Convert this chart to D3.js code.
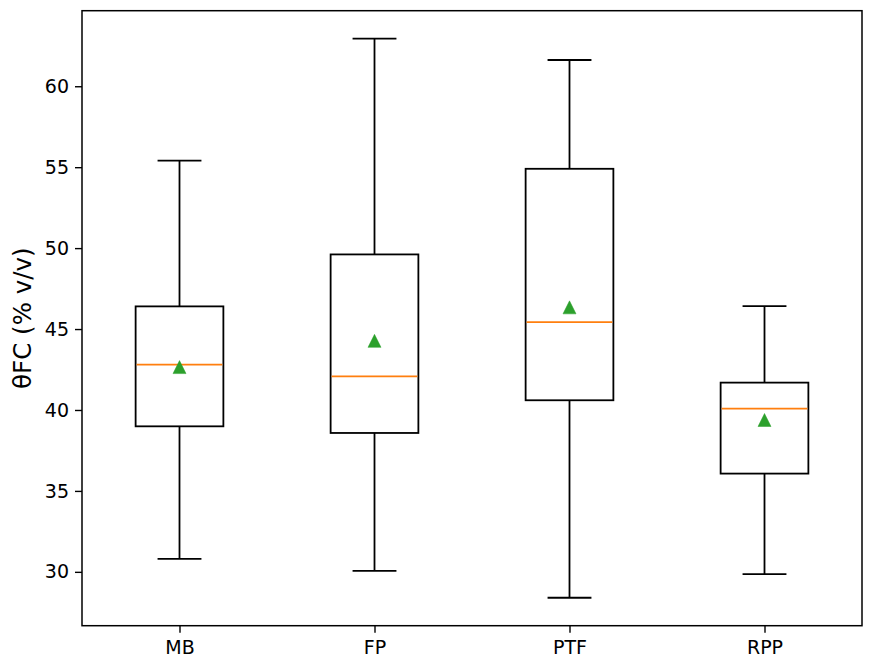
<!DOCTYPE html>
<html>
<head>
<meta charset="utf-8">
<script src="https://cdn.jsdelivr.net/npm/d3@7/dist/d3.min.js"></script>
<style>
  body { margin: 0; background: #fff; }
  svg { display: block; }
  text { font-family: "DejaVu Sans", sans-serif; fill: #000; }
</style>
</head>
<body>
<svg id="chart" width="874" height="665"></svg>
<script>
// ---- data ----
const categories = ["MB", "FP", "PTF", "RPP"];
const whiskerLow  = [30.80, 30.06, 28.40, 29.86];
const q1          = [38.99, 38.58, 40.60, 36.07];
const median      = [42.80, 42.08, 45.43, 40.08];
const q3          = [46.40, 49.61, 54.90, 41.69];
const whiskerHigh = [55.41, 62.94, 61.62, 46.42];
const means       = [42.65, 44.27, 46.34, 39.38];
const yTicks      = [30, 35, 40, 45, 50, 55, 60];
const yLabel      = "θFC (% v/v)";

const boxes = categories.map((c, i) => ({
  cat: c, pos: i + 1,
  lo: whiskerLow[i], q1: q1[i], med: median[i], q3: q3[i], hi: whiskerHigh[i], mean: means[i]
}));

// ---- layout ----
const svg = d3.select("#chart");
const plot = { left: 82, right: 862, top: 10.7, bottom: 625.7 };

const dMin = d3.min(whiskerLow), dMax = d3.max(whiskerHigh);
const pad = (dMax - dMin) * 0.05;

const x = d3.scaleLinear().domain([0.5, categories.length + 0.5]).range([plot.left, plot.right]);
const y = d3.scaleLinear().domain([dMin - pad, dMax + pad]).range([plot.bottom, plot.top]);

const boxW = 0.45;           // in data units
const capW = boxW / 2;
const lw = 1.8;

const g = svg.append("g");

// whiskers
const bx = g.selectAll(".box").data(boxes).enter().append("g").attr("class", "box");
bx.append("line")
  .attr("x1", d => x(d.pos)).attr("x2", d => x(d.pos))
  .attr("y1", d => y(d.q1)).attr("y2", d => y(d.lo))
  .attr("stroke", "#000").attr("stroke-width", lw);
bx.append("line")
  .attr("x1", d => x(d.pos)).attr("x2", d => x(d.pos))
  .attr("y1", d => y(d.q3)).attr("y2", d => y(d.hi))
  .attr("stroke", "#000").attr("stroke-width", lw);
// caps
bx.append("line")
  .attr("x1", d => x(d.pos - capW / 2)).attr("x2", d => x(d.pos + capW / 2))
  .attr("y1", d => y(d.lo)).attr("y2", d => y(d.lo))
  .attr("stroke", "#000").attr("stroke-width", lw);
bx.append("line")
  .attr("x1", d => x(d.pos - capW / 2)).attr("x2", d => x(d.pos + capW / 2))
  .attr("y1", d => y(d.hi)).attr("y2", d => y(d.hi))
  .attr("stroke", "#000").attr("stroke-width", lw);
// box
bx.append("rect")
  .attr("x", d => x(d.pos - boxW / 2))
  .attr("width", d => x(d.pos + boxW / 2) - x(d.pos - boxW / 2))
  .attr("y", d => y(d.q3))
  .attr("height", d => y(d.q1) - y(d.q3))
  .attr("fill", "none").attr("stroke", "#000").attr("stroke-width", lw);
// median
bx.append("line")
  .attr("x1", d => x(d.pos - boxW / 2) + 1).attr("x2", d => x(d.pos + boxW / 2) - 1)
  .attr("y1", d => y(d.med)).attr("y2", d => y(d.med))
  .attr("stroke", "#ff7f0e").attr("stroke-width", lw);
// mean marker (triangle up)
const tri = 6.5;
bx.append("path")
  .attr("d", d => {
    const cx = x(d.pos), cy = y(d.mean);
    return `M${cx},${cy - tri}L${cx - tri},${cy + tri}L${cx + tri},${cy + tri}Z`;
  })
  .attr("fill", "#2ca02c").attr("stroke", "#2ca02c").attr("stroke-width", 0.5);

// ---- axes ----
const yAxis = d3.axisLeft(y).tickValues(yTicks).tickFormat(d3.format("d")).tickSize(7).tickPadding(6).tickSizeOuter(0);
const ya = svg.append("g").attr("transform", `translate(${plot.left},0)`).call(yAxis);
ya.select(".domain").remove();
ya.selectAll("line").attr("stroke", "#000").attr("stroke-width", 1.4);
ya.selectAll("text").style("font-size", "19px").attr("fill", "#000");

const xAxis = d3.axisBottom(x).tickValues(boxes.map(d => d.pos)).tickFormat((d, i) => categories[i]).tickSize(7).tickPadding(8).tickSizeOuter(0);
const xa = svg.append("g").attr("transform", `translate(0,${plot.bottom})`).call(xAxis);
xa.select(".domain").remove();
xa.selectAll("line").attr("stroke", "#000").attr("stroke-width", 1.4);
xa.selectAll("text").style("font-size", "19px").attr("fill", "#000");

// frame
svg.append("rect")
  .attr("x", plot.left).attr("y", plot.top)
  .attr("width", plot.right - plot.left).attr("height", plot.bottom - plot.top)
  .attr("fill", "none").attr("stroke", "#000").attr("stroke-width", 1.5);

// y label
svg.append("text")
  .attr("transform", `translate(31,${(plot.top + plot.bottom) / 2}) rotate(-90)`)
  .attr("text-anchor", "middle")
  .style("font-size", "24.5px")
  .text(yLabel);
</script>
</body>
</html>
